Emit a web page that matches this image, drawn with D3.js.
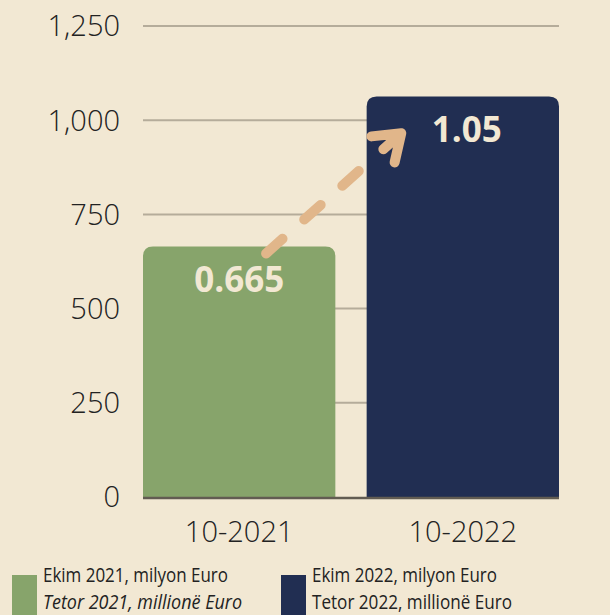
<!DOCTYPE html>
<html>
<head>
<meta charset="utf-8">
<script src="https://cdn.jsdelivr.net/npm/d3@7"></script>
<style>
  html, body { margin: 0; padding: 0; background: #f2e8d3; }
  svg { display: block; }
</style>
</head>
<body>
<div id="chart"></div>
<script>
// data
const categories = ["10-2021", "10-2022"];
const barValues = [665, 1063];
const barLabels = ["0.665", "1.05"];
const yTicks = [0, 250, 500, 750, 1000, 1250];
const legendLines = [
    ["Ekim 2021, milyon Euro", "Tetor 2021, millionë Euro"],
    ["Ekim 2022, milyon Euro", "Tetor 2022, millionë Euro"]
];

const COLORS = {
    bg: "#f2e8d3",
    bars: ["#87a46b", "#212e52"],
    grid: "#b5ac9a",
    axis: "#625c52",
    text: "#222222",
    label: "#f2e8d3",
    arrow: "#e1b68a"
};

const width = 610, height = 615;

const svg = d3.select("#chart")
    .append("svg")
    .attr("width", width)
    .attr("height", height)
    .style("background", COLORS.bg);

const x = d3.scaleBand()
    .domain(categories)
    .range([143, 559])
    .paddingInner(0.14)
    .paddingOuter(0);

const y = d3.scaleLinear()
    .domain([0, 1250])
    .range([497, 26]);

// grid lines
svg.append("g")
    .selectAll("line")
    .data(yTicks.filter(d => d > 0))
    .join("line")
    .attr("x1", 143)
    .attr("x2", 559)
    .attr("y1", d => y(d))
    .attr("y2", d => y(d))
    .attr("stroke", COLORS.grid)
    .attr("stroke-width", 2);

// y tick labels
svg.append("g")
    .selectAll("text")
    .data(yTicks)
    .join("text")
    .attr("x", 120)
    .attr("y", d => y(d))
    .attr("dy", "0.36em")
    .attr("text-anchor", "end")
    .attr("font-family", "'Open Sans', sans-serif")
    .attr("font-weight", 300)
    .attr("font-size", 29)
    .attr("fill", COLORS.text)
    .text(d => d3.format(",")(d));

// bars with rounded top corners
const r = 10;
function barPath(x0, w, yTop, yBase) {
    return `M${x0},${yBase}
            L${x0},${yTop + r}
            Q${x0},${yTop} ${x0 + r},${yTop}
            L${x0 + w - r},${yTop}
            Q${x0 + w},${yTop} ${x0 + w},${yTop + r}
            L${x0 + w},${yBase} Z`;
}

svg.append("g")
    .selectAll("path")
    .data(categories)
    .join("path")
    .attr("fill", (d, i) => COLORS.bars[i])
    .attr("d", (d, i) => barPath(x(d), x.bandwidth(), y(barValues[i]), y(0)));

// baseline
svg.append("line")
    .attr("x1", 143)
    .attr("x2", 559)
    .attr("y1", y(0) + 1)
    .attr("y2", y(0) + 1)
    .attr("stroke", COLORS.axis)
    .attr("stroke-width", 2.5);

// x labels
svg.append("g")
    .selectAll("text")
    .data(categories)
    .join("text")
    .attr("x", d => x(d) + x.bandwidth() / 2)
    .attr("y", 542)
    .attr("text-anchor", "middle")
    .attr("font-family", "'Open Sans', sans-serif")
    .attr("font-weight", 300)
    .attr("font-size", 29)
    .attr("fill", COLORS.text)
    .text(d => d);

// arrow between the bars
const ax0 = x(categories[0]) + x.bandwidth() * 0.64;
const ay0 = y(barValues[0]) + 7;
const ax1 = x(categories[1]) + x.bandwidth() * 0.18;
const ay1 = y(1000) + 13;
const ang = Math.atan2(ay1 - ay0, ax1 - ax0);
const headLen = 30;

const arrowG = svg.append("g")
    .attr("stroke", COLORS.arrow)
    .attr("stroke-width", 10)
    .attr("stroke-linecap", "round")
    .attr("fill", "none");

arrowG.append("line")
    .attr("x1", ax0)
    .attr("y1", ay0)
    .attr("x2", ax1 - 28 * Math.cos(ang))
    .attr("y2", ay1 - 28 * Math.sin(ang))
    .attr("stroke-dasharray", "22 29");

arrowG.append("path")
    .attr("stroke-linejoin", "round")
    .attr("d", () => {
        const a1 = ang + Math.PI - 0.62;
        const a2 = ang + Math.PI + 0.62;
        return `M${ax1 + headLen * Math.cos(a1)},${ay1 + headLen * Math.sin(a1)}
                L${ax1},${ay1}
                L${ax1 + headLen * Math.cos(a2)},${ay1 + headLen * Math.sin(a2)}
                M${ax1},${ay1}
                L${ax1 - 24 * Math.cos(ang)},${ay1 - 24 * Math.sin(ang)}`;
    });

// value labels inside bars
svg.append("g")
    .selectAll("text")
    .data(categories)
    .join("text")
    .attr("x", (d, i) => x(d) + x.bandwidth() / 2 + (i === 1 ? 4 : 0))
    .attr("y", (d, i) => y(barValues[i]) + 46)
    .attr("text-anchor", "middle")
    .attr("font-family", "'Open Sans', sans-serif")
    .attr("font-weight", 700)
    .attr("font-size", 35)
    .attr("fill", COLORS.label)
    .text((d, i) => barLabels[i]);

// legend
const legendX = [12, 281];
const legend = svg.append("g")
    .selectAll("g")
    .data(legendLines)
    .join("g")
    .attr("transform", (d, i) => `translate(${legendX[i]},0)`);

legend.append("rect")
    .attr("x", 0)
    .attr("y", 575)
    .attr("width", 25)
    .attr("height", 40)
    .attr("fill", (d, i) => COLORS.bars[i]);

const lineWidths = [[185, 199], [185, 200]];
legend.each(function (lines, i) {
    const g = d3.select(this);
    lines.forEach((t, j) => {
        g.append("text")
            .attr("x", 31)
            .attr("y", 582 + j * 27)
            .attr("font-family", "'Open Sans', sans-serif")
            .attr("font-size", 20)
            .attr("font-style", i === 0 && j === 1 ? "italic" : "normal")
            .attr("fill", COLORS.text)
            .attr("textLength", lineWidths[i][j])
            .attr("lengthAdjust", "spacingAndGlyphs")
            .text(t);
    });
});
</script>
</body>
</html>
